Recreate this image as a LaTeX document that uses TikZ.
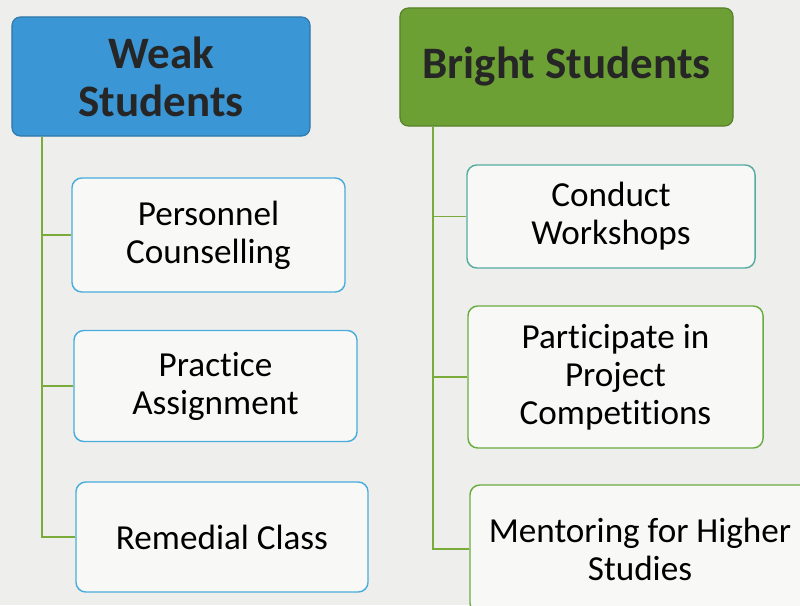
\documentclass[tikz,border=0pt]{standalone}
\usepackage{fontspec}
\setmainfont{Carlito}[Ligatures=NoCommon]
\definecolor{paper}{RGB}{238,238,236}
\definecolor{headblue}{RGB}{58,150,212}
\definecolor{headgreen}{RGB}{108,160,52}
\definecolor{edgeblue}{RGB}{72,172,220}
\definecolor{edgegreen}{RGB}{104,172,64}
\definecolor{trunk}{RGB}{122,172,60}

\begin{document}
\begin{tikzpicture}[x=0.025cm,y=-0.025cm,
 head/.style={draw=#1!80!black,fill=#1,rounded corners=6pt,line width=0.8pt,align=center,
   font=\fontsize{32}{34}\selectfont\bfseries,text=black!85,inner sep=0pt},
 leaf/.style={draw=#1,fill=white!60!paper,rounded corners=7pt,line width=1pt,align=center,
   font=\fontsize{25}{27}\selectfont,text=black,inner sep=0pt},
 branch/.style={draw=trunk,line width=1.3pt}]
\fill[paper] (0,0) rectangle (800,605);
\clip (0,0) rectangle (800,605);
% headers
\node[head=headblue,minimum width=7.45cm,minimum height=2.975cm] (weak) at (161,76.5) {Weak\\Students};
\node[head=headgreen,minimum width=8.325cm,minimum height=2.95cm] (bright) at (566.5,67) {Bright Students};
% weak students
\node[leaf=edgeblue,minimum width=6.825cm,minimum height=2.85cm] (pc) at (208.5,235) {Personnel\\Counselling};
\node[leaf=edgeblue,minimum width=7.075cm,minimum height=2.775cm] (pa) at (215.5,386) {Practice\\Assignment};
\node[leaf=edgeblue,minimum width=7.3cm,minimum height=2.75cm] (rc) at (222,537) {Remedial Class};
% bright students
\node[leaf=edgeblue!60!edgegreen,minimum width=7.2cm,minimum height=2.575cm] (cw) at (611,216.5) {Conduct\\Workshops};
\node[leaf=edgegreen,minimum width=7.375cm,minimum height=3.55cm] (pp) at (615.5,377) {Participate in\\Project\\Competitions};
\node[leaf=edgegreen,minimum width=8.5cm,minimum height=3.2cm] (mh) at (640,549) {Mentoring for Higher\\Studies};
% trunks
\coordinate (tl) at (42,0);
\coordinate (tr) at (433,0);
\draw[branch] (weak.south -| tl) |- (pc.west);
\draw[branch] (weak.south -| tl) |- (pa.west);
\draw[branch] (weak.south -| tl) |- (rc.west);
\draw[branch] (bright.south -| tr) |- (cw.west);
\draw[branch] (bright.south -| tr) |- (pp.west);
\draw[branch] (bright.south -| tr) |- (mh.west);
\end{tikzpicture}
\end{document}
